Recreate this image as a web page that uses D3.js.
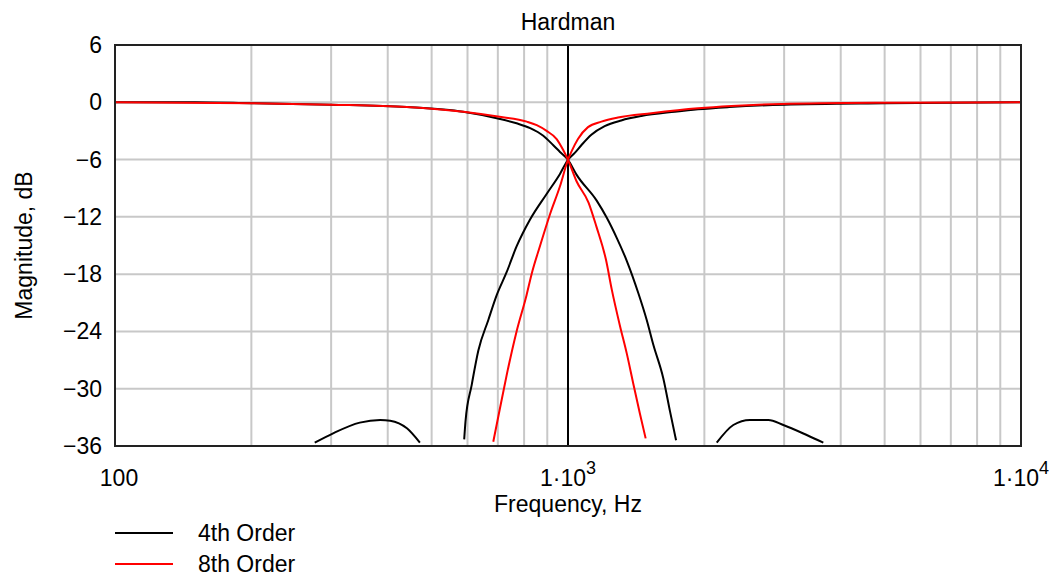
<!DOCTYPE html>
<html>
<head>
<meta charset="utf-8">
<script src="https://cdn.jsdelivr.net/npm/d3@7"></script>
<style>
body { margin: 0; background: #fff; }
text { font-family: "Liberation Sans", Arial, sans-serif; fill: #000; }
</style>
</head>
<body>
<div id="chart"></div>
<script>
// axis ticks and grid
var xTicks = [100, 1000, 10000];
var xGrid = [200, 300, 400, 500, 600, 700, 800, 900, 2000, 3000, 4000, 5000, 6000, 7000, 8000, 9000];
var yTicks = [6, 0, -6, -12, -18, -24, -30, -36];
var markerFreq = [1000];

// 4th order (black) - values below -36 dB are left out (null = gap)
var lp4Freq = [100, 150, 200, 300, 441, 587, 700, 770, 825, 882, 928, 960, 1000, 1045, 1157, 1218, 1281, 1348, 1430, 1492, 1543, 1623, 1680, 1732, null, 2130, 2317, 2522, 2768, 2988, 3365, 3661];
var lp4Db = [0, 0, -0.1, -0.25, -0.5, -1.0, -1.7, -2.2, -2.7, -3.5, -4.5, -5.2, -6.02, -7.6, -10.3, -12.1, -14.2, -16.6, -20.0, -22.8, -25.4, -28.9, -32.4, -35.4, null, -35.65, -33.8, -33.27, -33.27, -33.8, -34.85, -35.65];
var hp4Freq = [276, 303, 347, 385, 405, 441, 471, null, 590, 594, 613, 634, 667, 696, 732, 770, 824, 897, 960, 1000, 1035, 1070, 1126, 1205, 1311, 1452, 1721, 1936, 2268, 3000, 5000, 10000];
var hp4Db = [-35.65, -34.67, -33.55, -33.27, -33.35, -34.15, -35.65, null, -35.3, -33.4, -29.6, -26.0, -22.8, -20.2, -17.8, -15.1, -12.3, -9.6, -7.5, -6.02, -5.3, -4.5, -3.4, -2.5, -1.9, -1.44, -0.99, -0.73, -0.5, -0.25, -0.1, 0];

// 8th order (red)
var lp8Freq = [100, 200, 300, 441, 587, 700, 811, 853, 897, 944, 976, 1000, 1045, 1110, 1155, 1213, 1249, 1302, 1348, 1394, 1441, 1484];
var lp8Db = [0, -0.1, -0.25, -0.5, -1.0, -1.5, -2.03, -2.4, -3.0, -3.85, -5.0, -6.02, -8.3, -10.5, -13.0, -16.5, -19.6, -23.4, -26.3, -29.5, -32.6, -35.2];
var hp8Freq = [684, 708, 732, 770, 810, 831, 868, 913, 960, 1000, 1017, 1052, 1107, 1185, 1289, 1527, 1936, 2294, 2958, 5000, 10000];
var hp8Db = [-35.55, -32.0, -28.6, -24.0, -20.2, -18.0, -15.0, -11.7, -8.8, -6.02, -5.2, -3.85, -2.6, -2.03, -1.6, -1.15, -0.63, -0.39, -0.18, -0.05, 0];

var seriesNames = ["4th Order", "8th Order"];
var seriesColors = ["#000000", "#ff0000"];

function pairs(f, v) {
	return f.map(function(d, i) { return { f: d, db: v[i] }; });
}

var series = [
	{ key: 0, pts: pairs(lp4Freq, lp4Db) },
	{ key: 0, pts: pairs(hp4Freq, hp4Db) },
	{ key: 1, pts: pairs(lp8Freq, lp8Db) },
	{ key: 1, pts: pairs(hp8Freq, hp8Db) }
];

// chart dimensions
var margin = { top: 45, right: 33, bottom: 136, left: 115 };
var width = 1054 - margin.left - margin.right;
var height = 582 - margin.top - margin.bottom;

var x = d3.scaleLog().domain([100, 10000]).range([0, width]);
var y = d3.scaleLinear().domain([-36, 6]).range([height, 0]);

var svg = d3.select("#chart").append("svg")
	.attr("width", 1054)
	.attr("height", 582);

var chart = svg.append("g")
	.attr("transform", "translate(" + margin.left + "," + margin.top + ")");

// grid
chart.selectAll(".vgrid").data(xGrid).enter().append("line")
	.attr("x1", function(d) { return x(d); })
	.attr("x2", function(d) { return x(d); })
	.attr("y1", 0).attr("y2", height)
	.style("stroke", "#c8c8c8").style("stroke-width", 2);

chart.selectAll(".hgrid").data(yTicks.slice(1, -1)).enter().append("line")
	.attr("x1", 0).attr("x2", width)
	.attr("y1", function(d) { return y(d); })
	.attr("y2", function(d) { return y(d); })
	.style("stroke", "#c8c8c8").style("stroke-width", 2);

// marker at the crossover frequency
chart.selectAll(".marker").data(markerFreq).enter().append("line")
	.attr("x1", function(d) { return x(d); })
	.attr("x2", function(d) { return x(d); })
	.attr("y1", 0).attr("y2", height)
	.style("stroke", "#000").style("stroke-width", 2);

// curves
var line = d3.line()
	.defined(function(d) { return d.f != null && d.db != null; })
	.x(function(d) { return x(d.f); })
	.y(function(d) { return y(d.db); })
	.curve(d3.curveMonotoneX);

chart.selectAll(".curve").data(series).enter().append("path")
	.attr("d", function(d) { return line(d.pts); })
	.style("fill", "none")
	.style("stroke", function(d) { return seriesColors[d.key]; })
	.style("stroke-width", 2);

// frame
chart.append("rect")
	.attr("width", width).attr("height", height)
	.style("fill", "none").style("stroke", "#222").style("stroke-width", 2);

// y tick labels
chart.selectAll(".ylab").data(yTicks).enter().append("text")
	.attr("x", -13)
	.attr("y", function(d) { return y(d) + 8; })
	.attr("text-anchor", "end")
	.style("font-size", "23px")
	.text(function(d) { return d < 0 ? "\u2212" + Math.abs(d) : d; });

// x tick labels
var xl = chart.selectAll(".xlab").data(xTicks).enter().append("text")
	.attr("x", function(d) { return x(d); })
	.attr("y", height + 40)
	.attr("text-anchor", "middle")
	.style("font-size", "23px");
xl.each(function(d) {
	var t = d3.select(this);
	var e = Math.round(Math.log10(d));
	if (e < 3) { t.attr("dx", 4).text(d); return; }
	t.append("tspan").text("1\u00b710");
	t.append("tspan").attr("dy", -12).style("font-size", "18px").text(e);
});

// titles
chart.append("text")
	.attr("x", width / 2).attr("y", -15)
	.attr("text-anchor", "middle")
	.style("font-size", "23px")
	.text("Hardman");

chart.append("text")
	.attr("x", width / 2).attr("y", height + 66)
	.attr("text-anchor", "middle")
	.style("font-size", "23px")
	.text("Frequency, Hz");

chart.append("text")
	.attr("transform", "translate(" + (-83) + "," + (height / 2) + ") rotate(-90)")
	.attr("text-anchor", "middle")
	.style("font-size", "23px")
	.text("Magnitude, dB");

// legend
var legend = chart.selectAll(".legend").data(seriesNames).enter().append("g")
	.attr("transform", function(d, i) { return "translate(0," + (height + 87 + i * 31) + ")"; });

legend.append("line")
	.attr("x1", 0).attr("x2", 58)
	.style("stroke", function(d, i) { return seriesColors[i]; })
	.style("stroke-width", 2);

legend.append("text")
	.attr("x", 83).attr("y", 8)
	.style("font-size", "23px")
	.text(function(d) { return d; });
</script>
</body>
</html>
